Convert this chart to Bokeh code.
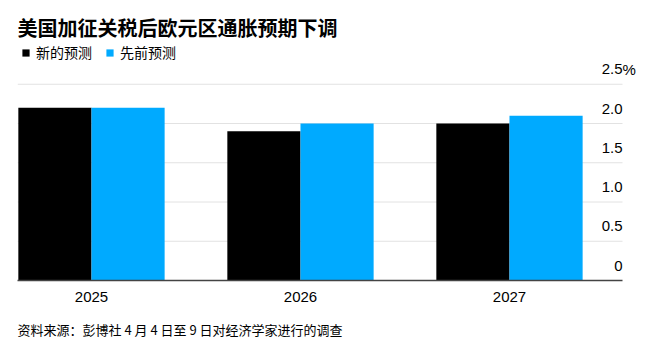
from bokeh.plotting import figure
from bokeh.models import (ColumnDataSource, FixedTicker, Label, Range1d, Legend,
                          LegendItem, Title)
from bokeh.embed import file_html
from bokeh.resources import INLINE

# ---- data ----
years = ["2025", "2026", "2027"]
new_forecast = [2.2, 1.9, 2.0]
prev_forecast = [2.2, 2.0, 2.1]
y_ticks = [0, 0.5, 1.0, 1.5, 2.0, 2.5]
y_tick_labels = ["0", "0.5", "1.0", "1.5", "2.0", "2.5"]
title_text = "美国加征关税后欧元区通胀预期下调"
series_names = ["新的预测", "先前预测"]
source_text = "资料来源：彭博社 4 月 4 日至 9 日对经济学家进行的调查"

BLACK = "#000000"
BLUE = "#00aaff"
CJK = "Noto Sans CJK SC"
NUM = "Liberation Sans"

# ---- layout (pixels / ranges) ----
W, H = 648, 357
FRAME_L, FRAME_R, FRAME_B = 17, 642, 280
PX_PER_X = 209.0
PX_PER_Y = 78.5
bar_w = 0.35
x_start = -0.354
x_end = x_start + (FRAME_R - FRAME_L) / PX_PER_X
x_grid_end = x_start + (622 - FRAME_L) / PX_PER_X
y_end = FRAME_B / PX_PER_Y

idx = list(range(len(years)))
src = ColumnDataSource(dict(
    x_new=[i - bar_w / 2 for i in idx],
    x_prev=[i + bar_w / 2 for i in idx],
    new=new_forecast,
    prev=prev_forecast,
))

p = figure(width=W, height=H, output_backend="svg", toolbar_location=None,
           x_range=Range1d(x_start, x_end), y_range=Range1d(0, y_end),
           y_axis_location=None, min_border_left=FRAME_L, min_border_right=W - FRAME_R,
           min_border_top=0, min_border_bottom=H - FRAME_B)
p.outline_line_color = None
p.background_fill_color = "white"
p.border_fill_color = "white"
p.xgrid.visible = False
p.ygrid.visible = False

# gridlines (stop at the label column)
p.segment(x0=x_start, x1=x_grid_end, y0=y_ticks[1:], y1=y_ticks[1:],
          line_color="#e2e2e2", line_width=1)

r_new = p.vbar(x="x_new", top="new", width=bar_w, source=src, color=BLACK, line_color=None)
r_prev = p.vbar(x="x_prev", top="prev", width=bar_w, source=src, color=BLUE, line_color=None)

# x axis
xa = p.xaxis[0]
xa.ticker = FixedTicker(ticks=idx)
xa.major_label_overrides = {i: y for i, y in zip(idx, years)}
xa.major_tick_line_color = None
xa.minor_tick_line_color = None
xa.axis_line_color = "#444444"
xa.axis_line_width = 1.5
xa.bounds = (x_start, x_grid_end)
xa.major_label_standoff = 5
xa.major_label_text_font = NUM
xa.major_label_text_font_size = "15px"
xa.major_label_text_color = "#000000"

# y tick labels (right aligned, sitting above gridlines)
for v, t in zip(y_ticks, y_tick_labels):
    p.add_layout(Label(x=x_grid_end, y=v, text=t, text_align="right",
                       text_baseline="alphabetic", x_offset=0, y_offset=15,
                       text_font=NUM, text_font_size="15px", text_color="#000000"))
p.add_layout(Label(x=x_grid_end, y=y_ticks[-1], text="%", text_align="left",
                   text_baseline="alphabetic", x_offset=0, y_offset=15,
                   text_font=NUM, text_font_size="15px", text_color="#000000"))

# title (inside frame, measured from top-left corner)
p.add_layout(Label(x=x_start, y=y_end, text=title_text, x_offset=0, y_offset=-27,
                   text_font=CJK, text_font_size="20px", text_font_style="bold",
                   text_baseline="middle", text_align="left", text_color="#000000"))

# legend
legend = Legend(items=[LegendItem(label=series_names[0], renderers=[r_new]),
                       LegendItem(label=series_names[1], renderers=[r_prev])],
                location=(4, 218), orientation="horizontal",
                glyph_width=9, glyph_height=9, label_standoff=6, spacing=13,
                padding=0, margin=0, border_line_color=None,
                background_fill_alpha=0, label_height=9,
                label_text_font=CJK, label_text_font_size="14px",
                label_text_color="#000000")
p.add_layout(legend)

# source note
p.add_layout(Title(text=source_text, align="left", text_font=CJK,
                   text_font_size="13px", text_font_style="normal",
                   text_color="#000000", standoff=26, offset=0), "below")

open("out.html", "w").write(file_html(p, INLINE))
